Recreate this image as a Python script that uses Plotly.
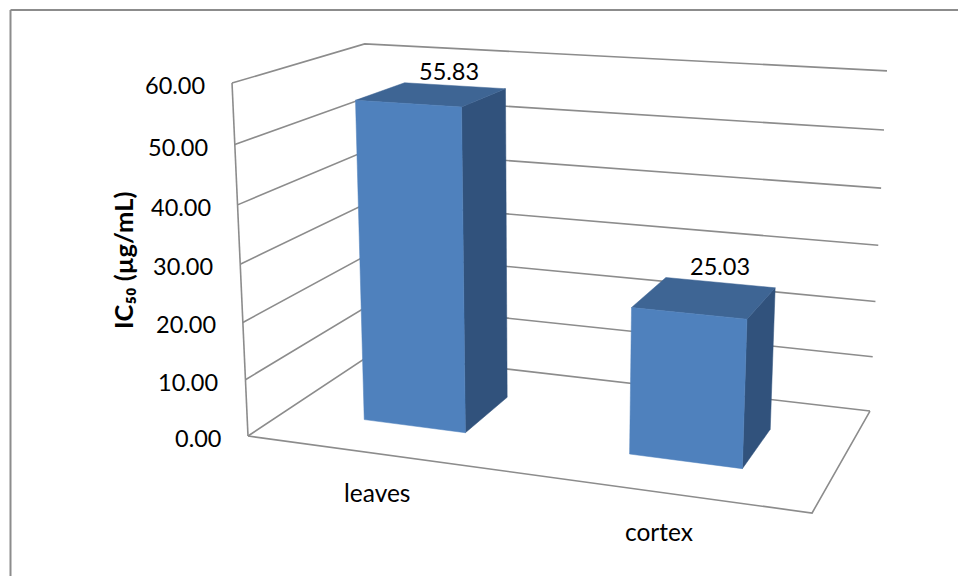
import numpy as np
import plotly.graph_objects as go

# Chart values
categories = ["leaves", "cortex"]
ic50_values = [55.83, 25.03]
value_labels = ["55.83", "25.03"]
axis_ticks = [0, 10, 20, 30, 40, 50, 60]
tick_labels = ["0.00", "10.00", "20.00", "30.00", "40.00", "50.00", "60.00"]
axis_title = "<b>IC₅₀ (µg/mL)</b>"

# Scene layout: category slots along the floor, value range, bar footprint
VALUE_MAX = 60.0
BAR_WIDTH = 0.197
BAR_SHIFT = 0.003
BAR_DEPTH = (0.29, 0.69)

# Perspective camera: vanishing points of the three box directions,
# their homogeneous weights, and the image of the box origin.
VP_X, VP_Y, VP_Z = (-4440.0, -204.0), (1222.0, -209.0), (543.0, 6950.0)
W_X, W_Y, W_Z = -0.1074, 0.1468, -0.0514
ORIGIN = (248.0, 436.0)
CAMERA = np.array([
    [W_X * VP_X[0], W_Y * VP_Y[0], W_Z * VP_Z[0], ORIGIN[0]],
    [W_X * VP_X[1], W_Y * VP_Y[1], W_Z * VP_Z[1], ORIGIN[1]],
    [W_X, W_Y, W_Z, 1.0],
])

GRID = "#8c8c8c"
FRONT, TOP, SIDE = "#4f81bd", "#3e6594", "#31527c"
FONT = "Lato, 'Open Sans', sans-serif"
TEXT = "#000000"
LABEL_OFFSETS = [(19, -23), (17, -31)]


def project(u, v, value):
    """Map floor position (u, v) and a data value to drawing coordinates."""
    p = CAMERA @ np.array([u, v, value / VALUE_MAX, 1.0])
    return p[0] / p[2], p[1] / p[2]


def polyline(points, **style):
    xy = [project(*pt) for pt in points]
    return go.Scatter(x=[c[0] for c in xy], y=[c[1] for c in xy], mode="lines",
                      hoverinfo="skip", showlegend=False, **style)


def face(points, color):
    return polyline(points + points[:1], fill="toself", fillcolor=color,
                    line=dict(color=color, width=0.5))


fig = go.Figure()
grid_line = dict(color=GRID, width=1.6)

# Walls: one gridline per tick along the left wall and across the back wall
for tick in axis_ticks:
    fig.add_trace(polyline([(0, 0, tick), (0, 1, tick), (1, 1, tick)], line=grid_line))

# Value axis and the front and right edges of the floor
fig.add_trace(polyline([(0, 0, 0), (0, 0, VALUE_MAX)], line=grid_line))
fig.add_trace(polyline([(0, 0, 0), (1, 0, 0), (1, 1, 0)], line=grid_line))

# Bars
n = len(categories)
annotations = []
for i, (name, value) in enumerate(zip(categories, ic50_values)):
    center = (i + 0.5) / n
    u0 = center + BAR_SHIFT - BAR_WIDTH / 2
    u1 = center + BAR_SHIFT + BAR_WIDTH / 2
    v0, v1 = BAR_DEPTH
    fig.add_trace(face([(u1, v0, 0), (u1, v1, 0), (u1, v1, value), (u1, v0, value)], SIDE))
    fig.add_trace(face([(u0, v0, value), (u1, v0, value), (u1, v1, value), (u0, v1, value)], TOP))
    fig.add_trace(face([(u0, v0, 0), (u1, v0, 0), (u1, v0, value), (u0, v0, value)], FRONT))

    lx, ly = project(center, 0.49, value)
    annotations.append(dict(x=lx, y=ly, text=value_labels[i], xshift=LABEL_OFFSETS[i][0],
                            yshift=-LABEL_OFFSETS[i][1], showarrow=False,
                            font=dict(family=FONT, size=23.5, color=TEXT)))
    cx, cy = project(center, 0, 0)
    annotations.append(dict(x=cx, y=cy, text=name, yshift=-39, showarrow=False,
                            font=dict(family=FONT, size=24.5, color=TEXT)))

# Value axis labels
for tick, label in zip(axis_ticks, tick_labels):
    tx, ty = project(0, 0, tick)
    annotations.append(dict(x=tx, y=ty, text=label, xanchor="right", xshift=-25, yshift=-2,
                            showarrow=False, font=dict(family=FONT, size=23.5, color=TEXT)))

annotations.append(dict(x=123, y=261, text=axis_title, textangle=-90, showarrow=False,
                        font=dict(family=FONT, size=25.5, color=TEXT)))

fig.update_layout(
    width=958, height=576, margin=dict(l=0, r=0, t=0, b=0),
    paper_bgcolor="white", plot_bgcolor="white", showlegend=False,
    xaxis=dict(range=[0, 958], visible=False, fixedrange=True),
    yaxis=dict(range=[576, 0], visible=False, fixedrange=True),
    annotations=annotations,
    shapes=[dict(type="line", xref="x", yref="y", x0=10.5, y0=576, x1=10.5, y1=10,
                 line=dict(color=GRID, width=2)),
            dict(type="line", xref="x", yref="y", x0=10.5, y0=10, x1=958, y1=10,
                 line=dict(color=GRID, width=2))],
)

fig.write_html("out.html", config={"displayModeBar": False})
